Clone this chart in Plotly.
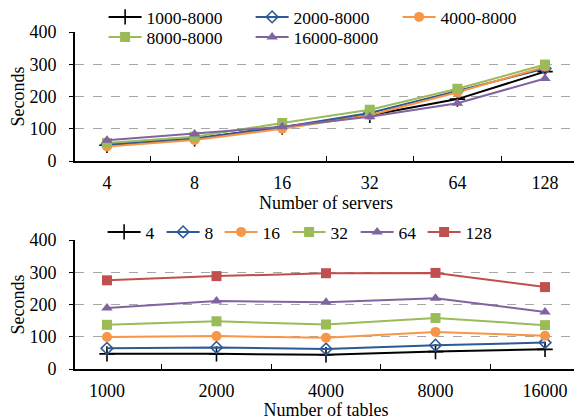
import plotly.graph_objects as go

servers = ["4", "8", "16", "32", "64", "128"]
tables = ["1000", "2000", "4000", "8000", "16000"]

top_names = ["1000-8000", "2000-8000", "4000-8000", "8000-8000", "16000-8000"]
top_vals = [
    [49, 69, 105, 142, 192, 277],
    [51, 70, 105, 149, 217, 287],
    [45, 65, 100, 142, 213, 292],
    [56, 75, 118, 159, 224, 299],
    [64, 84, 106, 137, 179, 256],
]

bot_names = ["4", "8", "16", "32", "64", "128"]
bot_vals = [
    [47, 47, 44, 54, 61],
    [64, 67, 62, 74, 82],
    [99, 102, 97, 115, 103],
    [137, 148, 138, 158, 136],
    [189, 211, 207, 219, 177],
    [275, 288, 297, 298, 254],
]

colors = ["#000000", "#2c5a96", "#f79646", "#9bbb59", "#8064a2", "#c0504d"]
symbols = ["cross-thin", "diamond-open", "circle", "square", "triangle-up", "square"]
msizes = [11, 9, 10, 10, 10, 10]
bot_legw = [11, 10, 20, 20, 19, 30]
top_legend = ["legend", "legend", "legend", "legend3", "legend3"]

fig = go.Figure()
FONT = "Liberation Serif"


def marker(i):
    return dict(symbol=symbols[i], size=msizes[i], color=colors[i],
                line=dict(color=colors[i], width=1.6 if i < 2 else 0))


for i, (n, v) in enumerate(zip(top_names, top_vals)):
    fig.add_trace(go.Scatter(
        x=servers, y=v, name=n, mode="lines+markers",
        line=dict(color=colors[i], width=2), marker=marker(i),
        xaxis="x", yaxis="y", legend=top_legend[i]))

for i, (n, v) in enumerate(zip(bot_names, bot_vals)):
    fig.add_trace(go.Scatter(
        x=tables, y=v, name=n, mode="lines+markers",
        line=dict(color=colors[i], width=2), marker=marker(i),
        legendwidth=bot_legw[i],
        xaxis="x2", yaxis="y2", legend="legend2"))

ax_common = dict(
    showline=True, linecolor="black", linewidth=2,
    tickfont=dict(family=FONT, size=18, color="black"),
)
yax = dict(
    range=[0, 400], dtick=100, ticks="outside", ticklen=4, tickcolor="black",
    ticklabelstandoff=9,
    showgrid=True, gridcolor="#a6a6a6", griddash="dash", gridwidth=1,
    zeroline=False, automargin=False,
    title=dict(text="Seconds", font=dict(family=FONT, size=18, color="black"), standoff=1),
    **ax_common)
xax = dict(
    type="category", ticks="inside", ticklen=5, tickcolor="black", tickson="boundaries",
    showgrid=False, automargin=False, ticklabelstandoff=4,
    **ax_common)

W, H = 574, 412
leg_common = dict(orientation="h", xanchor="left", yanchor="top", bgcolor="rgba(0,0,0,0)",
                  font=dict(family=FONT, size=17.5, color="black"), tracegroupgap=0,
                  itemwidth=33)

fig.update_layout(
    width=W, height=H,
    margin=dict(l=67, r=5, t=0, b=0, autoexpand=False),
    paper_bgcolor="white", plot_bgcolor="white",
    xaxis=dict(anchor="y", domain=[0, 1],
               title=dict(text="Number of servers", font=dict(family=FONT, size=18, color="black"), standoff=2),
               **xax),
    yaxis=dict(anchor="x", domain=[1 - 153 / H, 1 - 24 / H], **yax),
    xaxis2=dict(anchor="y2", domain=[0, 1],
                title=dict(text="Number of tables", font=dict(family=FONT, size=18, color="black"), standoff=0),
                **xax),
    yaxis2=dict(anchor="x2", domain=[1 - 361 / H, 1 - 232 / H], **yax),
    legend=dict(x=0.057, y=1 + 9 / H, entrywidth=99, entrywidthmode="pixels", **leg_common),
    legend3=dict(x=0.057, y=1 - 11 / H, entrywidth=99, entrywidthmode="pixels", **leg_common),
    legend2=dict(x=0.055, y=1 - 206 / H, **leg_common),
    showlegend=True,
)

fig.write_html("out.html")
